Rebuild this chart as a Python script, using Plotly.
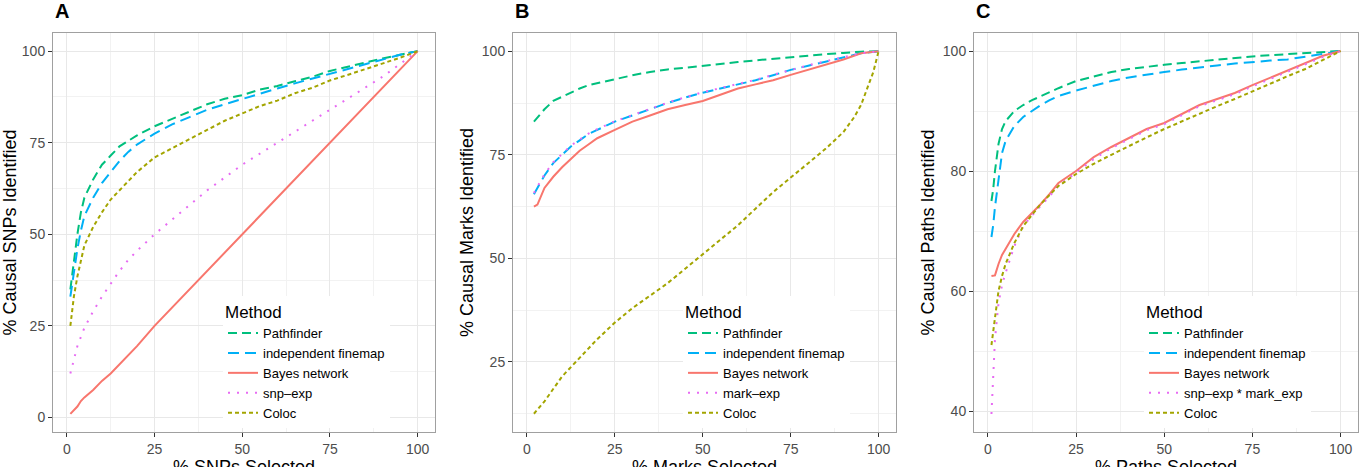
import plotly.graph_objects as go

W, H = 1362, 467

methods_A = ["Pathfinder", "independent finemap", "Bayes network", "snp\u2013exp", "Coloc"]
methods_B = ["Pathfinder", "independent finemap", "Bayes network", "mark\u2013exp", "Coloc"]
methods_C = ["Pathfinder", "independent finemap", "Bayes network", "snp\u2013exp * mark_exp", "Coloc"]

colors = ["#00BF7D", "#00B0F6", "#F8766D", "#E76BF3", "#A3A500"]
dashes = ["9px,5px", "11px,6px", "solid", "2px,7px", "4px,3px"]

# ---- Panel A ----
xA = [1, 2, 3, 4, 5, 7.5, 10, 12.5, 15, 17.5, 20, 25, 30, 35, 40, 45, 50, 55, 60, 65, 70, 75, 80, 85, 90, 95, 100]
A_path = [35, 43, 50, 56, 60, 65, 69, 71.5, 74, 75.5, 77, 79.5, 81.5, 83.5, 85.5, 87, 88, 89.5, 90.5, 91.8, 93, 94.6, 95.8, 97, 98, 99, 100]
A_indep = [33, 40, 46, 51, 55, 60, 64, 67, 70, 72.5, 74.5, 77.5, 80, 82, 84, 85.5, 87, 88.5, 89.8, 91.2, 92.5, 94, 95.3, 96.6, 97.8, 99, 100]
A_bayes = [1, 2, 3, 4.5, 5.5, 7.5, 10, 12, 14.5, 17, 19.5, 25, 30, 35, 40, 45, 50, 55, 60, 65, 70, 75, 80, 85, 90, 95, 100]
A_snp = [12, 16, 19.5, 22, 24.5, 29, 33, 36.5, 40, 43, 45.5, 50, 54, 58, 62, 65.5, 69, 72, 75, 78, 81, 84, 87, 90, 93, 96.5, 100]
A_coloc = [25, 33, 38.5, 43, 47, 52, 56, 59.5, 62, 64.5, 67, 71, 73.5, 76, 78.5, 81, 83, 85, 86.5, 88.5, 90, 92, 93.5, 95, 96.5, 98.2, 100]

# ---- Panel B ----
xB = [2, 3, 5, 7.5, 10, 12.5, 15, 17.5, 20, 25, 30, 35, 40, 45, 50, 55, 60, 65, 70, 75, 80, 85, 90, 95, 100]
B_path = [83, 84, 86, 88, 89, 90, 91, 91.8, 92.3, 93.3, 94.2, 95, 95.6, 96, 96.5, 97, 97.4, 97.8, 98.2, 98.6, 99, 99.3, 99.6, 99.9, 100]
B_indep = [65.5, 67, 70, 73, 75, 77, 78.5, 80, 81, 83, 84.5, 86, 87.5, 88.8, 90, 91, 92, 93, 94.2, 95.5, 96.5, 97.5, 98.5, 99.5, 100]
B_bayes = [62.5, 63, 67, 69.7, 72, 74, 76, 77.5, 79, 81, 83, 84.5, 86, 87, 88, 89.5, 91, 92, 93, 94.3, 95.5, 96.8, 98, 99.5, 100]
B_mark = [65.8, 67.3, 70.3, 73.2, 75.2, 77.2, 78.7, 80.1, 81.2, 83.1, 84.6, 86.1, 87.6, 88.9, 90.1, 91.1, 92.1, 93.1, 94.3, 95.5, 96.6, 97.6, 98.6, 99.5, 100]
xB_coloc = [2, 5, 10, 15, 20, 25, 30, 35, 40, 45, 50, 55, 60, 65, 70, 75, 80, 85, 90, 93, 95, 97, 98.5, 100]
B_coloc = [12.5, 15.5, 21.5, 26, 30.5, 34.5, 38, 41, 44, 47.5, 51, 54.5, 58, 62, 66, 69.5, 73, 76.5, 80.5, 84, 87, 91.5, 95, 100]

# ---- Panel C ----
xC = [1, 1.5, 2, 3, 4, 5, 7.5, 10, 12.5, 15, 17.5, 20, 25, 30, 35, 40, 45, 50, 55, 60, 65, 70, 75, 80, 85, 90, 95, 100]
C_path = [75, 77, 80, 84.5, 87, 88.3, 90, 91, 91.8, 92.5, 93.2, 93.8, 95, 95.8, 96.5, 97, 97.4, 97.7, 98, 98.3, 98.6, 98.9, 99.1, 99.3, 99.5, 99.7, 99.9, 100]
C_indep = [69, 71, 74, 79, 83, 85, 87.5, 89, 90, 91, 91.8, 92.5, 93.4, 94.2, 95, 95.6, 96.1, 96.5, 96.9, 97.3, 97.6, 97.9, 98.2, 98.4, 98.6, 99, 99.5, 100]
C_bayes = [62.5, 62.5, 62.6, 64.5, 66, 67, 69.5, 71.5, 73, 74.5, 76.2, 78, 80, 82.3, 84, 85.5, 87, 88, 89.5, 91, 92, 93, 94.3, 95.5, 96.8, 98, 99.2, 100]
C_snpmark = [39.5, 45, 52, 58, 61, 63, 67.5, 70.8, 72.6, 74.2, 75.8, 77.6, 79.7, 82, 83.8, 85.3, 86.8, 87.8, 89.3, 90.8, 91.8, 92.8, 94.1, 95.3, 96.6, 97.8, 99, 100]
C_coloc = [51, 53.5, 56, 60, 62.5, 64.5, 68, 70.8, 72.7, 74.5, 76, 77.5, 79.5, 81.2, 82.7, 84.2, 85.6, 87, 88.3, 89.5, 90.8, 92, 93.3, 94.5, 95.8, 97, 98.5, 100]

panels = [
    dict(name="A", xs=[xA, xA, xA, xA, xA], ys=[A_path, A_indep, A_bayes, A_snp, A_coloc], methods=methods_A,
         xtitle="% SNPs Selected", ytitle="% Causal SNPs Identified",
         yrange=[-3.95, 104.95], ymajor=[0, 25, 50, 75, 100], yminor=[12.5, 37.5, 62.5, 87.5],
         px=(53, 435)),
    dict(name="B", xs=[xB, xB, xB, xB, xB_coloc], ys=[B_path, B_indep, B_bayes, B_mark, B_coloc], methods=methods_B,
         xtitle="% Marks Selected", ytitle="% Causal Marks Identified",
         yrange=[8.1, 104.4], ymajor=[25, 50, 75, 100], yminor=[12.5, 37.5, 62.5, 87.5],
         px=(513, 896)),
    dict(name="C", xs=[xC, xC, xC, xC, xC], ys=[C_path, C_indep, C_bayes, C_snpmark, C_coloc], methods=methods_C,
         xtitle="% Paths Selected", ytitle="% Causal Paths Identified",
         yrange=[36.5, 103.0], ymajor=[40, 60, 80, 100], yminor=[50, 70, 90],
         px=(974, 1358)),
]

FONT = "Liberation Sans, Arial, sans-serif"
fig = go.Figure()

top_px, bot_px = 33, 432
ydom = [1 - bot_px / H, 1 - top_px / H]

layout = dict(
    width=W, height=H, margin=dict(l=0, r=0, t=0, b=0),
    paper_bgcolor="white", plot_bgcolor="white",
    font=dict(family=FONT, color="black"),
    annotations=[],
)

for i, p in enumerate(panels):
    k = "" if i == 0 else str(i + 1)
    leg = "legend" if i == 0 else "legend" + str(i + 1)
    for j in range(5):
        fig.add_trace(go.Scatter(
            x=p["xs"][j], y=p["ys"][j], mode="lines", name=p["methods"][j],
            line=dict(color=colors[j], width=2, dash=dashes[j]),
            xaxis="x" + k, yaxis="y" + k, legend=leg, showlegend=True,
        ))
    x0, x1 = p["px"]
    axcommon = dict(
        ticks="outside", ticklen=4, tickcolor="#333333", tickwidth=1,
        tickfont=dict(size=14, color="#4D4D4D", family=FONT),
        showgrid=True, gridcolor="#E8E8E8", gridwidth=1,
        showline=True, linecolor="#A0A0A0", linewidth=1, mirror=True,
        zeroline=False, automargin=False,
    )
    layout["xaxis" + k] = dict(
        domain=[x0 / W, x1 / W], anchor="y" + k, range=[-3.95, 104.95],
        tickvals=[0, 25, 50, 75, 100],
        minor=dict(tickvals=[12.5, 37.5, 62.5, 87.5], showgrid=True, gridcolor="#F2F2F2", gridwidth=1),
        **axcommon,
    )
    layout["yaxis" + k] = dict(
        domain=ydom, anchor="x" + k, range=p["yrange"],
        tickvals=p["ymajor"],
        minor=dict(tickvals=p["yminor"], showgrid=True, gridcolor="#F2F2F2", gridwidth=1),
        title=dict(text=p["ytitle"], font=dict(size=18, family=FONT), standoff=3),
        **axcommon,
    )
    layout[leg] = dict(
        x=(x0 + 170) / W, y=1 - 296 / H, xanchor="left", yanchor="top",
        bgcolor="white", borderwidth=0,
        title=dict(text="Method", font=dict(size=17, family=FONT)),
        font=dict(size=13, family=FONT, color="black"),
        itemwidth=30, tracegroupgap=0,
    )
    layout["annotations"].append(dict(
        text="<b>" + p["name"] + "</b>", xref="paper", yref="paper",
        x=(x0 + 0) / W, y=1 + 2 / H, xanchor="left", yanchor="top",
        showarrow=False, font=dict(size=20, family=FONT, color="black"),
    ))
    layout["annotations"].append(dict(
        text=p["xtitle"], xref="paper", yref="paper",
        x=(x0 + x1) / 2 / W, y=1 - 455 / H, xanchor="center", yanchor="top",
        showarrow=False, font=dict(size=18, family=FONT, color="black"),
    ))

fig.update_layout(**layout)
fig.write_html("out.html")
